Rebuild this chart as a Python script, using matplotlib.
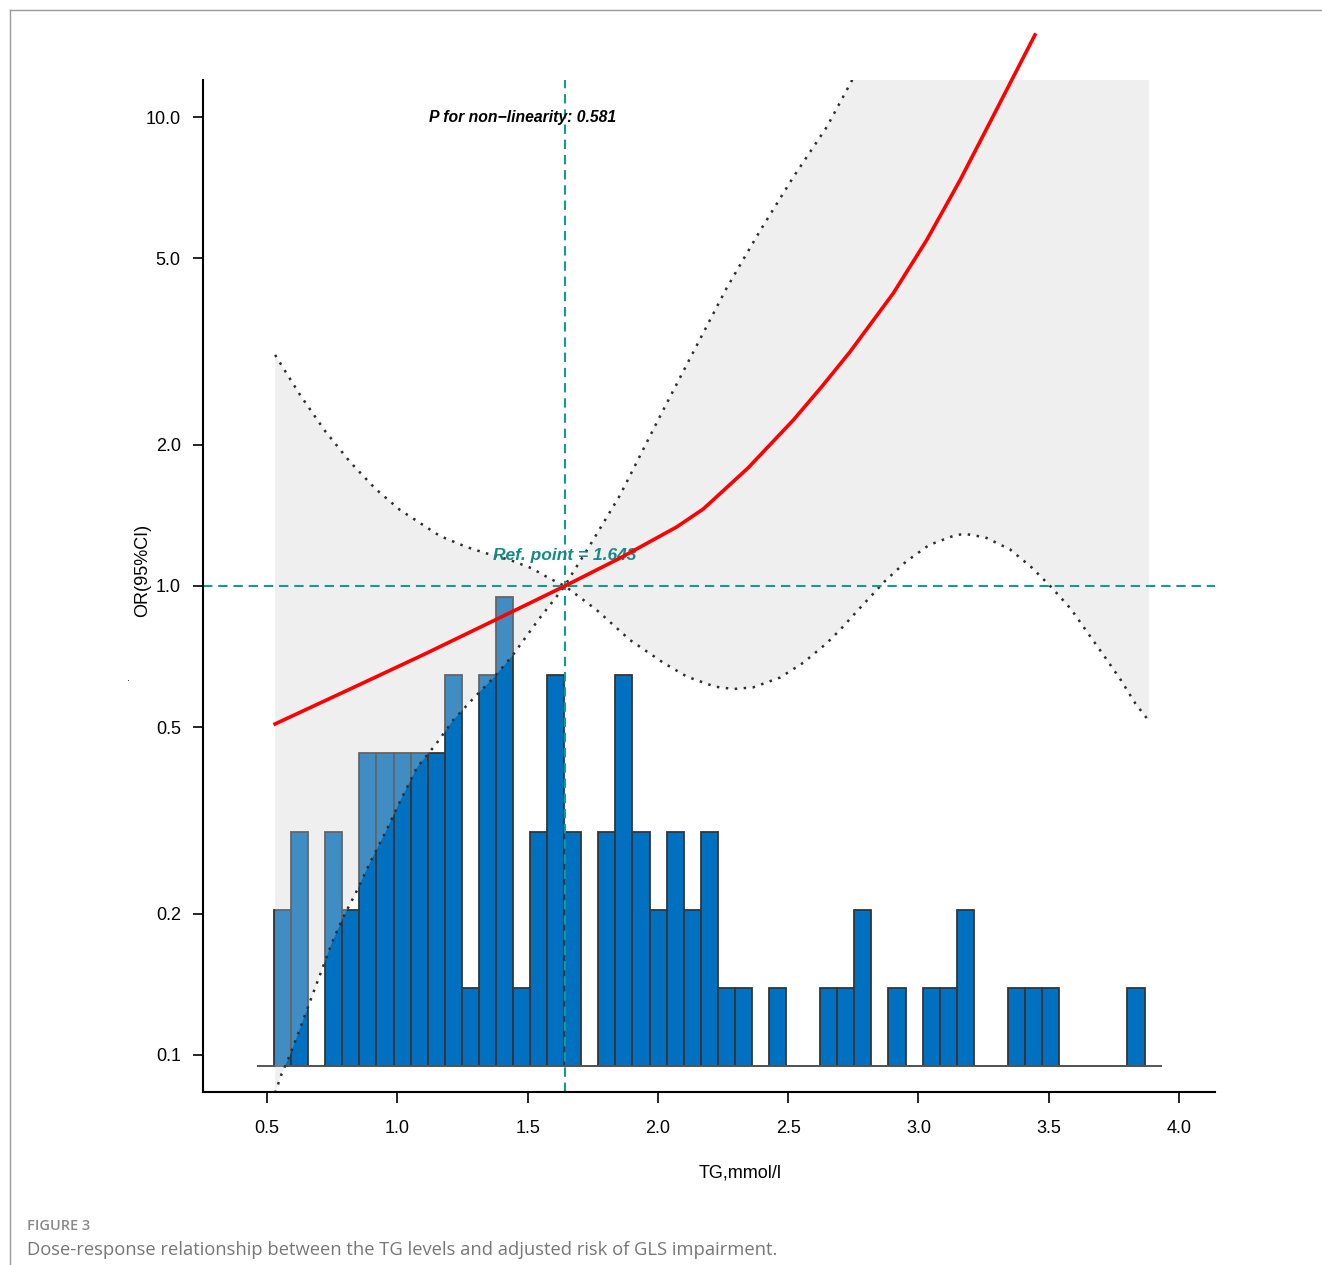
import numpy as np
import matplotlib
matplotlib.use('Agg')
import matplotlib.pyplot as plt
from matplotlib.lines import Line2D

plt.rcParams['font.family'] = ['Liberation Sans', 'DejaVu Sans']

# histogram of TG (counts per bin)
bin_start = 0.527
bin_w = 0.0655
counts = [2, 3, 0, 3, 2, 4, 4, 4, 4, 4, 5, 1, 5, 6, 1, 3, 5, 3, 0, 3,
          5, 3, 2, 3, 2, 3, 1, 1, 0, 1, 0, 0, 1, 1, 2, 0, 1, 0, 1, 1,
          2, 0, 0, 1, 1, 1, 0, 0, 0, 0, 1]

# fitted OR curve
tg_fit = [0.531, 0.819, 1.094, 1.407, 1.643, 1.855, 2.072, 2.174, 2.346,
          2.520, 2.628, 2.737, 2.904, 3.032, 3.160, 3.287, 3.447]
or_fit = [0.508, 0.603, 0.711, 0.863, 1.0, 1.147, 1.336, 1.459, 1.785,
          2.259, 2.657, 3.155, 4.214, 5.47, 7.34, 10.05, 14.96]

# CI line that starts high on the left and ends low on the right
tg_ci_a = [0.531, 0.627, 0.723, 0.819, 0.915, 1.010, 1.164, 1.266, 1.337,
           1.433, 1.516, 1.580, 1.643, 1.765, 1.893, 2.021, 2.111, 2.219,
           2.290, 2.366, 2.469, 2.558, 2.648, 2.699, 2.775, 2.872, 2.952,
           3.041, 3.142, 3.180, 3.256, 3.351, 3.434, 3.510, 3.586, 3.649,
           3.712, 3.776, 3.833, 3.885]
ci_a = [3.11, 2.555, 2.14, 1.838, 1.614, 1.453, 1.278, 1.211, 1.176,
        1.136, 1.091, 1.041, 1.0, 0.889, 0.767, 0.686, 0.641, 0.610,
        0.603, 0.608, 0.638, 0.686, 0.755, 0.806, 0.897, 1.025, 1.127,
        1.223, 1.284, 1.291, 1.270, 1.197, 1.096, 0.994, 0.892, 0.795,
        0.710, 0.631, 0.561, 0.515]

# CI line that starts low on the left and ends high on the right
tg_ci_b = [0.531, 0.556, 0.588, 0.627, 0.665, 0.703, 0.748, 0.793, 0.838,
           0.895, 0.959, 1.010, 1.074, 1.151, 1.215, 1.292, 1.368, 1.439,
           1.54, 1.643, 1.663, 1.740, 1.855, 2.008, 2.136, 2.264, 2.392,
           2.520, 2.648, 2.737, 3.0, 3.5, 3.885]
ci_b = [0.083, 0.0911, 0.1, 0.114, 0.130, 0.148, 0.173, 0.197, 0.220,
        0.257, 0.302, 0.347, 0.409, 0.462, 0.518, 0.576, 0.636, 0.707,
        0.845, 1.0, 1.045, 1.223, 1.563, 2.30, 3.155, 4.32, 5.72,
        7.45, 9.52, 11.75, 22.0, 60.0, 120.0]

ref_point = 1.643
p_nonlin = 0.581
yticks = [0.1, 0.2, 0.5, 1.0, 2.0, 5.0, 10.0]
xticks = [0.5, 1.0, 1.5, 2.0, 2.5, 3.0, 3.5, 4.0]

teal = '#17998c'
W, H = 1322, 1265
fig = plt.figure(figsize=(W / 100, H / 100), dpi=100)
pos = [203 / W, 1 - 1092 / H, (1215 - 203) / W, (1092 - 80) / H]
xlim = (0.2544, 4.138)

# histogram underneath
axh = fig.add_axes(pos)
axh.set_xlim(*xlim)
axh.set_ylim(-0.326, 12.6)
axh.axis('off')
edges = bin_start + bin_w * np.arange(len(counts))
axh.bar(edges, counts, width=bin_w, align='edge', color='#0070c0',
        edgecolor='#353535', linewidth=1.3)
axh.hlines(0, edges[0] - bin_w, edges[-1] + 2 * bin_w, color='#555555', lw=1.4)

# main log axes
ax = fig.add_axes(pos)
ax.patch.set_visible(False)
ax.set_yscale('log')
ax.set_xlim(*xlim)
ax.set_ylim(10 ** -1.0789, 10 ** 1.0789)

xa, ya = np.array(tg_ci_a), np.array(ci_a)
xb, yb = np.array(tg_ci_b), np.array(ci_b)
upper_x = np.concatenate([xa[xa <= ref_point], xb[xb > ref_point]])
upper_y = np.concatenate([ya[xa <= ref_point], yb[xb > ref_point]])
lower_x = np.concatenate([xb[xb <= ref_point], xa[xa > ref_point]])
lower_y = np.concatenate([yb[xb <= ref_point], ya[xa > ref_point]])
ax.fill(np.concatenate([upper_x, lower_x[::-1]]),
        np.concatenate([upper_y, lower_y[::-1]]),
        color=(0.81, 0.81, 0.81), alpha=0.315, lw=0)

ax.plot(tg_ci_a, ci_a, color='#2e2e2e', lw=1.8, ls=(0, (1, 2.6)))
ax.plot(tg_ci_b, ci_b, color='#2e2e2e', lw=1.8, ls=(0, (1, 2.6)))
ax.axhline(1.0, color=teal, lw=1.5, ls=(0, (4.5, 2.8)))
ax.axvline(ref_point, color=teal, lw=1.5, ls=(0, (4.5, 2.8)))
ax.plot(tg_fit, or_fit, color='#ff0000', lw=2.6, clip_on=False, zorder=5,
        solid_joinstyle='round')

ax.text(1.479, 10.0, 'P for non\u2212linearity: %.3f' % p_nonlin, ha='center',
        va='center', fontsize=11.3, fontweight='bold', fontstyle='italic')
ax.text(ref_point, 1.159, 'Ref. point = %.3f' % ref_point, ha='center',
        va='center', fontsize=12.5, fontweight='bold', fontstyle='italic',
        color='#158a86')

ax.spines['top'].set_visible(False)
ax.spines['right'].set_visible(False)
ax.spines['left'].set_linewidth(1.5)
ax.spines['bottom'].set_linewidth(1.5)
ax.set_yticks(yticks)
ax.set_yticklabels(['%.1f' % v for v in yticks])
ax.minorticks_off()
ax.set_xticks(xticks)
ax.set_xticklabels(['%.1f' % v for v in xticks])
ax.tick_params(axis='y', length=7, width=1.2, pad=9, labelsize=13)
ax.tick_params(axis='x', length=8, width=1.2, pad=12.5, labelsize=13)

fig.text(143 / W, 1 - 570 / H, 'OR(95%CI)', rotation=90, ha='center',
         va='center', fontsize=13)
fig.text(740 / W, 1 - 1173 / H, 'TG,mmol/l', ha='center', va='center',
         fontsize=13)
fig.text(128 / W, 1 - 678 / H, '.', ha='center', va='center', fontsize=8)

# caption and frame
fig.text(27 / W, 1 - 1226 / H, 'FIGURE 3', ha='left', va='center',
         fontsize=10.5, fontweight='semibold', color='#8a8a8a', family='Open Sans')
fig.text(27 / W, 1 - 1250 / H,
         'Dose-response relationship between the TG levels and adjusted risk of GLS impairment.',
         ha='left', va='center', fontsize=13.2, color='#777777', family='Open Sans')
fig.add_artist(Line2D([10 / W, 1], [1 - 10 / H, 1 - 10 / H], color='#9a9a9a', lw=1))
fig.add_artist(Line2D([10 / W, 10 / W], [0, 1 - 10 / H], color='#9a9a9a', lw=1))

fig.savefig('out.png', dpi=100)
